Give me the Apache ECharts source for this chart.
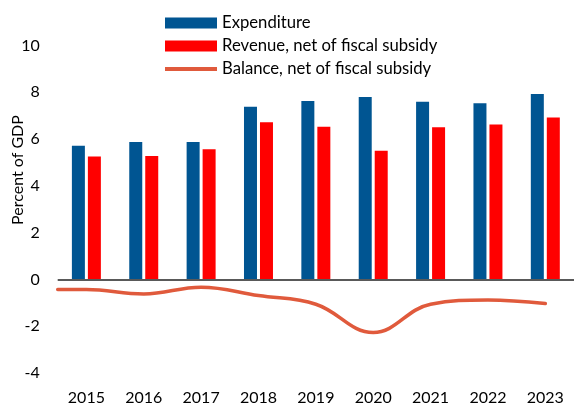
<!DOCTYPE html>
<html>
<head>
<meta charset="utf-8">
<script src="https://cdn.jsdelivr.net/npm/echarts@6/dist/echarts.min.js"></script>
<style>
  html, body { margin: 0; padding: 0; background: #fff; }
  #chart { width: 574px; height: 409px; }
</style>
</head>
<body>
<div id="chart"></div>
<script>
// Fiscal aggregates, percent of GDP
const years = ['2015', '2016', '2017', '2018', '2019', '2020', '2021', '2022', '2023'];
const expenditure = [5.71, 5.87, 5.88, 7.38, 7.63, 7.80, 7.60, 7.53, 7.93];
const revenueNet = [5.25, 5.28, 5.57, 6.72, 6.53, 5.50, 6.51, 6.62, 6.92];
// Balance is plotted on a numeric year scale; the first entry sits at the left edge of the plot
const balanceYears = [2014.5, 2015, 2016, 2017, 2018, 2019, 2020, 2021, 2022, 2023];
const balanceNet = [-0.43, -0.43, -0.62, -0.33, -0.69, -1.06, -2.27, -1.06, -0.88, -1.03];
const yTicks = { min: -4, max: 10, step: 2 };

const FONT = 'Lato, "Open Sans", sans-serif';
const LINE_COLOR = '#E05A3C';
// Legend glyph for the balance line: a thin band centred in the icon box
// (the zero-size corner points keep the box full height so the band is not stretched)
const lineIcon = 'path://M0,0L0,0L0,0Z M0,3.6L52,3.6L52,7.4L0,7.4Z M52,11L52,11L52,11Z';

const chart = echarts.init(document.getElementById('chart'), null, { renderer: 'canvas' });

chart.setOption({
  animation: false,
  backgroundColor: '#ffffff',
  textStyle: { fontFamily: FONT, color: '#000' },
  grid: { left: 57.7, right: -6, top: 45.5, bottom: 36, containLabel: false },
  legend: {
    orient: 'vertical',
    left: 165,
    top: 14,
    padding: 0,
    itemWidth: 52,
    itemHeight: 11,
    itemGap: 5,
    textStyle: { fontFamily: FONT, fontSize: 16.7, color: '#000', lineHeight: 18 },
    data: [
      { name: 'Expenditure', icon: 'rect' },
      { name: 'Revenue, net of fiscal subsidy', icon: 'rect' },
      { name: 'Balance, net of fiscal subsidy', icon: lineIcon, itemStyle: { color: LINE_COLOR } }
    ]
  },
  graphic: [{
    type: 'text',
    x: 18,
    y: 170,
    rotation: Math.PI / 2,
    style: {
      text: 'Percent of GDP',
      font: '16px ' + FONT,
      fill: '#000',
      align: 'center',
      verticalAlign: 'middle'
    }
  }],
  xAxis: [{
    type: 'category',
    data: years,
    axisLine: { show: false, onZero: false },
    axisTick: { show: false },
    axisLabel: { fontFamily: FONT, fontSize: 16, color: '#000', margin: 17 }
  }, {
    type: 'value',
    min: 2014.5,
    max: 2023.5,
    show: false
  }],
  yAxis: {
    type: 'value',
    min: yTicks.min,
    max: yTicks.max,
    interval: yTicks.step,
    axisLine: { show: false },
    axisTick: { show: false },
    splitLine: { show: false },
    axisLabel: { fontFamily: FONT, fontSize: 16, color: '#000', margin: 18 }
  },
  series: [{
    name: 'Expenditure',
    type: 'bar',
    data: expenditure,
    barWidth: 13,
    barGap: '23%',
    itemStyle: { color: '#005592' },
    markLine: {
      silent: true,
      symbol: 'none',
      label: { show: false },
      lineStyle: { color: '#595959', width: 2, type: 'solid' },
      data: [{ yAxis: 0 }]
    }
  }, {
    name: 'Revenue, net of fiscal subsidy',
    type: 'bar',
    data: revenueNet,
    barWidth: 13,
    barGap: '23%',
    itemStyle: { color: '#ff0000' }
  }, {
    name: 'Balance, net of fiscal subsidy',
    type: 'line',
    xAxisIndex: 1,
    data: balanceYears.map((y, i) => [y, balanceNet[i]]),
    smooth: 0.4,
    symbol: 'none',
    lineStyle: { color: LINE_COLOR, width: 3.5, cap: 'round' },
    itemStyle: { color: LINE_COLOR },
    z: 3
  }]
});
</script>
</body>
</html>
